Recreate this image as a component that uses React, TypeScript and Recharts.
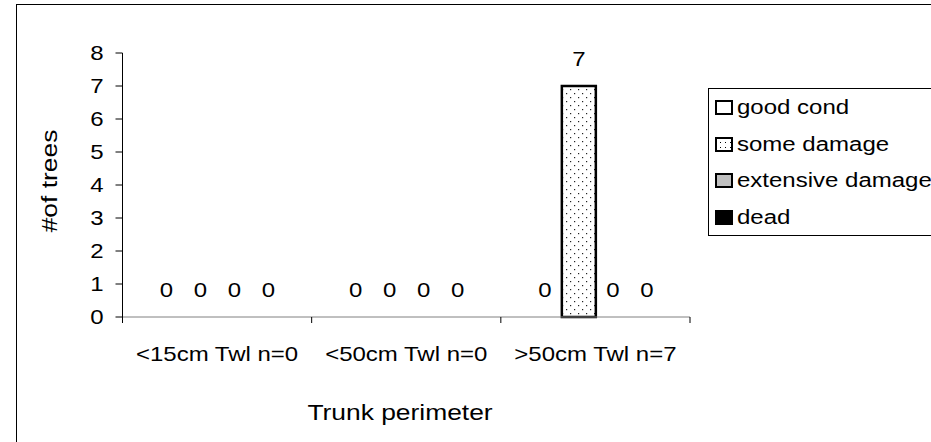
import React from "react";
import { BarChart, Bar, XAxis, YAxis, Legend, Rectangle } from "recharts";

const categories = ["<15cm Twl n=0", "<50cm Twl n=0", ">50cm Twl n=7"];
const goodCond = [0, 0, 0];
const someDamage = [0, 0, 7];
const extensiveDamage = [0, 0, 0];
const dead = [0, 0, 0];
const yTicks = [0, 1, 2, 3, 4, 5, 6, 7, 8];

const seriesNames = ["good cond", "some damage", "extensive damage", "dead"];

const FONT = "'Liberation Sans', Arial, sans-serif";
const SX = 1.2; // glyphs in the source are stretched wide
const BAND = 567.5 / 3;

const chartData = categories.map((name, i) => ({
  name,
  good: goodCond[i],
  some: someDamage[i],
  extensive: extensiveDamage[i],
  dead: dead[i],
}));

function SText(props: any) {
  const { x, y, anchor = "middle", size = 20, rotate = false, children } = props;
  const tf = rotate
    ? `translate(${x} ${y}) rotate(-90) scale(${SX} 1) translate(${-x} ${-y})`
    : `translate(${x} ${y}) scale(${SX} 1) translate(${-x} ${-y})`;
  return (
    <text
      x={x}
      y={y}
      textAnchor={anchor}
      dominantBaseline="central"
      fontFamily={FONT}
      fontSize={size}
      fill="#000"
      transform={tf}
    >
      {children}
    </text>
  );
}

function XTick(props: any) {
  const { x, y, payload, index } = props;
  const left = x - BAND / 2;
  const right = x + BAND / 2;
  return (
    <g>
      <line x1={left} y1={y - 8} x2={left} y2={y - 2} stroke="#000" />
      {index === categories.length - 1 && (
        <line x1={right} y1={y - 8} x2={right} y2={y - 2} stroke="#000" />
      )}
      <SText x={x} y={y + 29}>{payload.value}</SText>
    </g>
  );
}

function YTick(props: any) {
  const { x, y, payload } = props;
  return (
    <SText x={x - 10} y={y} anchor="end">
      {payload.value}
    </SText>
  );
}

// bar + its value label; zero bars still get their "0"
function BarWithLabel(props: any) {
  const { x, y, width, height, value } = props;
  const v = Array.isArray(value) ? value[1] - value[0] : value;
  return (
    <g>
      {height > 0 && <Rectangle {...props} />}
      <SText x={x + width / 2} y={y - 27}>
        {v}
      </SText>
    </g>
  );
}

const swatch: Record<string, React.CSSProperties> = {
  "good cond": { background: "#fff" },
  "some damage": {
    background:
      "radial-gradient(circle, #000 0.8px, transparent 1px) 1px 1px / 5px 5px, #fff",
  },
  "extensive damage": { background: "#c0c0c0" },
  dead: { background: "#000" },
};

function LegendBox(props: any) {
  const items = [...(props.payload || [])].sort(
    (a: any, b: any) => seriesNames.indexOf(a.value) - seriesNames.indexOf(b.value)
  );
  return (
    <div
      style={{
        width: 240,
        height: 148,
        border: "1px solid #000",
        background: "#fff",
        boxSizing: "border-box",
        fontFamily: FONT,
        fontSize: 20,
      }}
    >
      {items.map((p: any) => (
        <div
          key={p.value}
          style={{ height: 36.7, display: "flex", alignItems: "center", paddingLeft: 6 }}
        >
          <span
            style={{
              display: "inline-block",
              width: 14,
              height: 11,
              border: "2px solid #000",
              flex: "none",
              ...swatch[p.value],
            }}
          />
          <span
            style={{
              display: "inline-block",
              marginLeft: 4,
              transform: `scaleX(${SX})`,
              transformOrigin: "left center",
              whiteSpace: "nowrap",
              color: "#000",
            }}
          >
            {p.value}
          </span>
        </div>
      ))}
    </div>
  );
}

export default function App() {
  return (
    <div
      style={{
        position: "absolute",
        left: 0,
        top: 0,
        width: 931,
        height: 442,
        overflow: "hidden",
        background: "#fff",
      }}
    >
      <div
        style={{
          position: "absolute",
          left: 16,
          top: 4,
          width: 1000,
          height: 500,
          border: "1px solid #000",
        }}
      />
      <div style={{ position: "absolute", left: 0, top: 0 }}>
        <BarChart
          width={931}
          height={442}
          data={chartData}
          margin={{ top: 53, right: 241, bottom: 85, left: 0 }}
          barSize={34}
          barGap={0}
        >
          <defs>
            <pattern id="dots" width="8" height="8" patternUnits="userSpaceOnUse">
              <rect width="8" height="8" fill="#fff" />
              <rect x="2" y="1" width="1.2" height="1.2" fill="#222" />
              <rect x="6" y="5" width="1.2" height="1.2" fill="#222" />
            </pattern>
          </defs>
          <XAxis
            dataKey="name"
            height={40}
            axisLine={{ stroke: "#808080" }}
            tickLine={false}
            tick={<XTick />}
            interval={0}
            label={{
              content: (p: any) => (
                <SText x={400} y={p.viewBox.y + 95} size={22}>
                  Trunk perimeter
                </SText>
              ),
            }}
          />
          <YAxis
            width={122.5}
            domain={[0, 8]}
            ticks={yTicks}
            interval={0}
            axisLine={{ stroke: "#000" }}
            tickLine={{ stroke: "#000" }}
            tickSize={7}
            tick={<YTick />}
            label={{
              content: (p: any) => (
                <SText x={49} y={p.viewBox.y + p.viewBox.height / 2 - 4} size={22} rotate>
                  #of trees
                </SText>
              ),
            }}
          />
          <Legend
            layout="vertical"
            align="center"
            verticalAlign="middle"
            wrapperStyle={{ position: "absolute", left: 708, top: 88, width: 240 }}
            content={<LegendBox />}
          />
          <Bar dataKey="good" name={seriesNames[0]} fill="#fff" stroke="#000" strokeWidth={2} isAnimationActive={false} shape={<BarWithLabel />} />
          <Bar dataKey="some" name={seriesNames[1]} fill="url(#dots)" stroke="#000" strokeWidth={2.5} isAnimationActive={false} shape={<BarWithLabel />} />
          <Bar dataKey="extensive" name={seriesNames[2]} fill="#c0c0c0" stroke="#000" strokeWidth={2} isAnimationActive={false} shape={<BarWithLabel />} />
          <Bar dataKey="dead" name={seriesNames[3]} fill="#000" stroke="#000" strokeWidth={2} isAnimationActive={false} shape={<BarWithLabel />} />
        </BarChart>
      </div>
    </div>
  );
}
